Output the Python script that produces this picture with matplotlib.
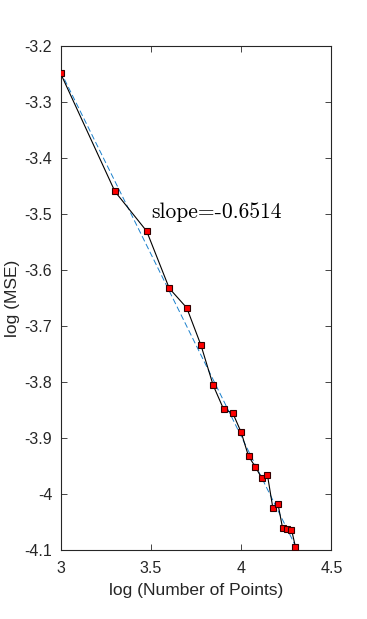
import numpy as np
import matplotlib.pyplot as plt

# log10 of number of points vs log10 of MSE
log_n = [3.000, 3.301, 3.477, 3.602, 3.699, 3.778, 3.845, 3.903, 3.954, 4.000,
         4.041, 4.079, 4.114, 4.146, 4.176, 4.204, 4.230, 4.255, 4.279, 4.301]
log_mse = [-3.248, -3.459, -3.530, -3.632, -3.667, -3.734, -3.805, -3.848, -3.855, -3.889,
           -3.932, -3.951, -3.971, -3.966, -4.025, -4.017, -4.061, -4.062, -4.063, -4.094]

fit_slope = -0.6514
fit_intercept = -1.2905
slope_text = 'slope=-0.6514'

xticks = [3, 3.5, 4, 4.5]
xticklabels = ['3', '3.5', '4', '4.5']
yticks = [-3.2, -3.3, -3.4, -3.5, -3.6, -3.7, -3.8, -3.9, -4.0, -4.1]
yticklabels = ['-3.2', '-3.3', '-3.4', '-3.5', '-3.6', '-3.7', '-3.8', '-3.9', '-4', '-4.1']

plt.rcParams['font.family'] = ['Liberation Sans', 'DejaVu Sans']
axcol = (0.15, 0.15, 0.15)

fig = plt.figure(figsize=(3.67, 6.19), dpi=100)
ax = fig.add_axes([0.165, 0.111, 0.738, 0.814])

ax.plot(log_n, log_mse, color='black', lw=0.8, marker='s', ms=5,
        mfc='red', mec=(0.2, 0, 0), mew=0.8, zorder=3)
fit_x = np.array([log_n[0], log_n[-1]])
ax.plot(fit_x, fit_intercept + fit_slope * fit_x, '--', color=(0.1, 0.5, 0.8),
        lw=0.7, dashes=(6, 3), zorder=2)

ax.text(3.504, -3.496, slope_text, family='cmr10', fontsize=15.5, va='center', ha='left')

ax.set_xlim(3, 4.5)
ax.set_ylim(-4.1, -3.2)
ax.set_xticks(xticks)
ax.set_xticklabels(xticklabels)
ax.set_yticks(yticks)
ax.set_yticklabels(yticklabels)
ax.tick_params(direction='in', top=True, right=True, labelsize=11.5, colors=axcol,
               length=4, width=0.6, pad=6)
ax.tick_params(axis='x', pad=8)
for s in ax.spines.values():
    s.set_color(axcol)
    s.set_linewidth(0.8)
ax.set_xlabel('log (Number of Points)', fontsize=12.5, color=axcol, labelpad=5)
ax.set_ylabel('log (MSE)', fontsize=12.5, color=axcol, labelpad=3)

fig.savefig('out.png', dpi=100)
